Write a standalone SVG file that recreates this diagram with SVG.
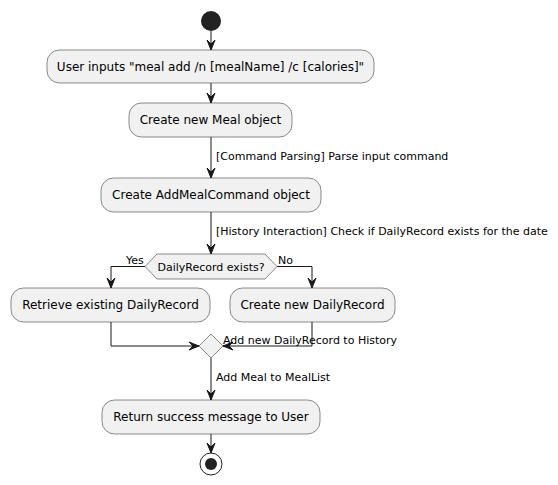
<svg xmlns="http://www.w3.org/2000/svg" width="558" height="485" viewBox="0 0 558 485">
<defs>
<style>
.box{fill:#F1F1F1;stroke:#181818;stroke-width:0.5}
.t{font-family:"DejaVu Sans",sans-serif;font-size:12px;fill:#000;text-anchor:middle}
.l{font-family:"DejaVu Sans",sans-serif;font-size:11px;fill:#000}
.c{fill:none;stroke:#181818;stroke-width:1}
.ah{fill:#181818;stroke:#181818;stroke-width:1}
</style>
</defs>
<rect width="558" height="485" fill="#FFFFFF"/>
<g id="start"><circle cx="211" cy="21" r="10" fill="#222222"/></g>
<g id="n1"><rect class="box" x="47" y="50" width="327" height="33" rx="12.5"/><text class="t" x="210.5" y="71">User inputs "meal add /n [mealName] /c [calories]"</text></g>
<g id="n2"><rect class="box" x="129" y="103" width="163" height="34" rx="12.5"/><text class="t" x="210.5" y="124">Create new Meal object</text></g>
<g id="n3"><rect class="box" x="101" y="178" width="220" height="34" rx="12.5"/><text class="t" x="211" y="199">Create AddMealCommand object</text></g>
<g id="d1"><polygon class="box" points="145,266.5 157,254 265,254 277,266.5 265,279 157,279"/><text class="l" x="211" y="271" text-anchor="middle">DailyRecord exists?</text></g>
<g id="n4"><rect class="box" x="11" y="288" width="199" height="34" rx="12.5"/><text class="t" x="110.5" y="309">Retrieve existing DailyRecord</text></g>
<g id="n5"><rect class="box" x="230" y="288" width="165" height="34" rx="12.5"/><text class="t" x="312.5" y="309">Create new DailyRecord</text></g>
<g id="d2"><polygon class="box" points="199,346 211,334 223,346 211,358"/></g>
<g id="n6"><rect class="box" x="102" y="400" width="218" height="34" rx="12.5"/><text class="t" x="211" y="421">Return success message to User</text></g>
<g id="end"><circle cx="211" cy="464" r="11" fill="none" stroke="#222222" stroke-width="1"/><circle cx="211" cy="464" r="6" fill="#222222"/></g>
<g id="connectors">
<path class="c" d="M211,31 V50"/><path class="ah" d="M207,40 L211,50 L215,40 L211,44 Z"/>
<path class="c" d="M211,83 V103"/><path class="ah" d="M207,93 L211,103 L215,93 L211,97 Z"/>
<path class="c" d="M211,137 V178"/><path class="ah" d="M207,168 L211,178 L215,168 L211,172 Z"/>
<text class="l" x="216" y="160">[Command Parsing] Parse input command</text>
<path class="c" d="M211,212 V254"/><path class="ah" d="M207,244 L211,254 L215,244 L211,248 Z"/>
<text class="l" x="216" y="235">[History Interaction] Check if DailyRecord exists for the date</text>
<path class="c" d="M145,266.5 H111 V288"/><path class="ah" d="M107,278 L111,288 L115,278 L111,282 Z"/>
<text class="l" x="126" y="264">Yes</text>
<path class="c" d="M277,266.5 H312 V288"/><path class="ah" d="M308,278 L312,288 L316,278 L312,282 Z"/>
<text class="l" x="278" y="264">No</text>
<path class="c" d="M111,322 V346 H199"/><path class="ah" d="M189,342 L199,346 L189,350 L193,346 Z"/>
<path class="c" d="M312,322 V346 H223"/><path class="ah" d="M233,342 L223,346 L233,350 L229,346 Z"/>
<text class="l" x="223" y="344">Add new DailyRecord to History</text>
<path class="c" d="M211,358 V400"/><path class="ah" d="M207,390 L211,400 L215,390 L211,394 Z"/>
<text class="l" x="216" y="381">Add Meal to MealList</text>
<path class="c" d="M211,434 V453"/><path class="ah" d="M207,443 L211,453 L215,443 L211,447 Z"/>
</g>
</svg>
